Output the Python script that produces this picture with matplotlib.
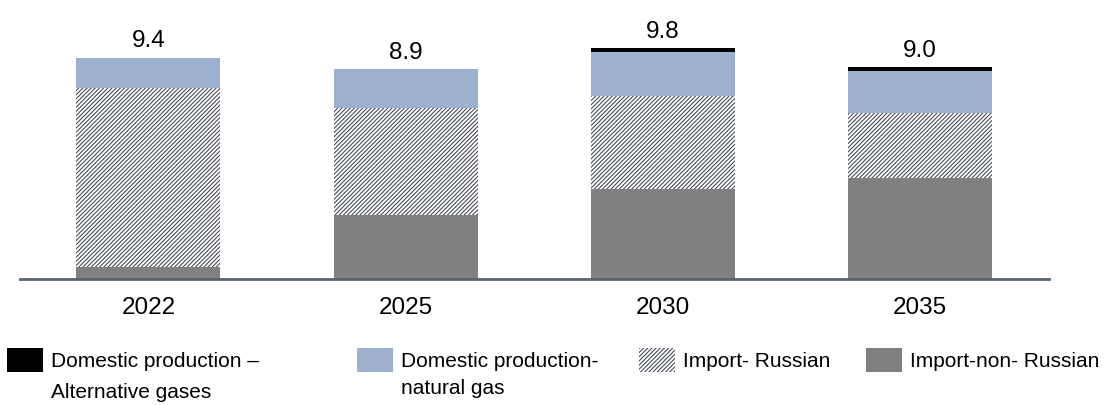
import matplotlib
matplotlib.use("Agg")
import matplotlib.pyplot as plt
from matplotlib.patches import Patch
from matplotlib.text import Annotation

plt.rcParams['font.family'] = ['Liberation Sans', 'DejaVu Sans']
plt.rcParams['hatch.linewidth'] = 0.75

# gas supply by source, per year
years = ['2022', '2025', '2030', '2035']
import_non_russian = [0.50, 2.73, 3.83, 4.30]
import_russian = [7.60, 4.54, 3.96, 2.76]
domestic_natural_gas = [1.30, 1.63, 1.84, 1.78]
domestic_alternative = [0.00, 0.00, 0.17, 0.16]
totals = [9.4, 8.9, 9.8, 9.0]

c_gray = '#808080'
c_blue = '#9DB0CF'
c_hatch = '#3f4450'
hatch = '////////'

fig = plt.figure(figsize=(11.05, 4.05), dpi=100)
ax = fig.add_axes([0.018, 0.311, 0.931, 0.689])

x = range(len(years))
w = 0.56
b1 = import_non_russian
b2 = [a + b for a, b in zip(b1, import_russian)]
b3 = [a + b for a, b in zip(b2, domestic_natural_gas)]

ax.bar(x, import_non_russian, w, color=c_gray, linewidth=0)
ax.bar(x, import_russian, w, bottom=b1, facecolor='white', edgecolor=c_hatch,
       hatch=hatch, linewidth=0)
ax.bar(x, domestic_natural_gas, w, bottom=b2, color=c_blue, linewidth=0)
ax.bar(x, domestic_alternative, w, bottom=b3, color='black', linewidth=0)

# totals above the bars
for i, t in enumerate(totals):
    ax.annotate(f'{t:.1f}', (i, t), xytext=(0, 4), textcoords='offset points',
                ha='center', va='bottom', fontsize=17.5)

ax.set_xlim(-0.5, 3.5)
ax.set_ylim(0, 11.85)
ax.set_xticks(list(x))
ax.set_xticklabels(years, fontsize=17.5)
ax.tick_params(axis='x', length=0, pad=13)
ax.set_yticks([])
for s in ['top', 'right', 'left']:
    ax.spines[s].set_visible(False)
ax.spines['bottom'].set_color('#5a6470')
ax.spines['bottom'].set_linewidth(2)

# legend, one block per series; second lines hang under the first
items = [
    (Patch(facecolor='black'), 'Domestic production –', 'Alternative gases', 0.0063, -9),
    (Patch(facecolor=c_blue), 'Domestic production-', 'natural gas', 0.323, -6),
    (Patch(facecolor='white', edgecolor=c_hatch, hatch=hatch, linewidth=0), 'Import- Russian', None, 0.578, 0),
    (Patch(facecolor=c_gray), 'Import-non- Russian', None, 0.7837, 0),
]
for h, lab, lab2, xpos, dy in items:
    leg = fig.legend([h], [lab], loc='upper left', bbox_to_anchor=(xpos, 0.1407),
                     frameon=False, fontsize=15, handlelength=1.73, handleheight=1.4,
                     handletextpad=0.4, borderpad=0, borderaxespad=0)
    if lab2:
        ann = Annotation(lab2, xy=(0, 0), xycoords=leg.get_texts()[0],
                         xytext=(0, dy), textcoords='offset points',
                         ha='left', va='top', fontsize=15, zorder=6)
        fig.add_artist(ann)

fig.savefig('out.png', dpi=100)
